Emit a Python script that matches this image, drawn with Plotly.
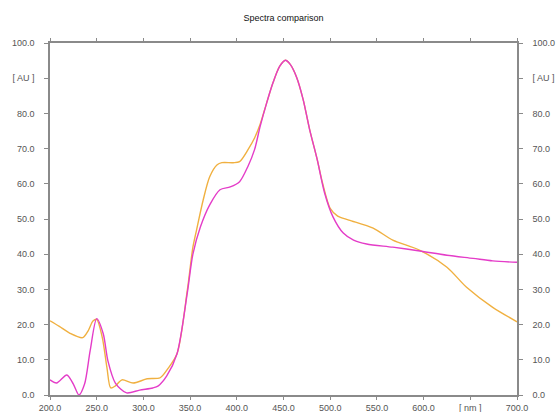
import plotly.graph_objects as go

# Wavelength grid and absorbance for the two spectra
wavelength_a = [200, 210, 221, 235, 241, 246, 250, 256, 261, 265, 270, 277, 289, 304, 318, 326,
                336, 347, 353, 357, 364, 371, 379, 384, 396, 403, 412, 419, 425, 432, 439, 446,
                452, 457, 464, 471, 478, 486, 492, 500, 508, 520, 546, 567, 596, 625, 646, 674, 700]
absorb_a = [21.1, 19.5, 17.6, 16.3, 18.3, 21.0, 21.5, 16.3, 7.7, 2.0, 2.6, 4.3, 3.4, 4.6, 4.9, 7.4,
            11.7, 29.7, 42.0, 47.0, 55.4, 62.0, 65.4, 66.0, 66.0, 66.3, 69.7, 73.0, 76.9, 83.0, 88.9, 93.4,
            95.1, 94.0, 90.3, 84.0, 75.4, 67.0, 60.0, 53.0, 50.8, 49.7, 47.4, 44.0, 41.1, 36.3, 30.6, 24.9, 20.8]

wavelength_b = [200, 207, 218, 225, 231, 237, 243, 250, 257, 262, 270, 282, 296, 310, 316, 325,
                336, 347, 353, 361, 371, 382, 393, 403, 412, 419, 425, 432, 439, 446, 452, 457,
                464, 471, 478, 486, 494, 503, 514, 525, 539, 567, 596, 625, 653, 674, 700]
absorb_b = [4.3, 3.4, 5.7, 3.1, 0.0, 3.1, 12.6, 21.7, 17.4, 9.7, 3.4, 0.6, 1.4, 2.0, 2.6, 5.4,
            11.7, 29.0, 40.0, 47.7, 54.0, 58.3, 59.1, 60.6, 65.0, 69.7, 76.3, 83.0, 88.9, 93.4, 95.1, 94.0,
            90.3, 84.0, 75.4, 67.0, 57.4, 50.6, 46.0, 44.0, 42.9, 42.0, 40.9, 39.7, 38.8, 38.1, 37.7]

x_ticks = [200, 250, 300, 350, 400, 450, 500, 550, 600, 650, 700]
x_tick_text = ["200.0", "250.0", "300.0", "350.0", "400.0", "450.0", "500.0", "550.0", "600.0", "[ nm ]", "700.0"]
y_ticks = [0, 10, 20, 30, 40, 50, 60, 70, 80, 90, 100]
y_tick_text = ["0.0", "10.0", "20.0", "30.0", "40.0", "50.0", "60.0", "70.0", "80.0", "[ AU ]", "100.0"]

fig = go.Figure()
fig.add_trace(go.Scatter(x=wavelength_a, y=absorb_a, mode="lines",
                         line=dict(color="#F0B040", width=1.4, shape="spline", smoothing=0.8),
                         showlegend=False))
fig.add_trace(go.Scatter(x=wavelength_b, y=absorb_b, mode="lines", yaxis="y2",
                         line=dict(color="#E43CC8", width=1.4, shape="spline", smoothing=0.8),
                         showlegend=False))

tick_font = dict(family="Liberation Sans, Arial, sans-serif", size=9, color="#555555")
axis_common = dict(showgrid=False, zeroline=False, showline=True, linecolor="#8a8a8a", linewidth=1.5,
                   ticks="outside", tickcolor="#8a8a8a", tickwidth=1, tickfont=tick_font,
                   automargin=False)

fig.update_layout(
    width=556, height=412,
    margin=dict(l=50, r=39, t=43, b=17),
    paper_bgcolor="white", plot_bgcolor="white",
    title=dict(text="Spectra comparison", x=0.51, xanchor="center", y=1 - 18 / 412, yanchor="middle",
               yref="container", font=dict(family="Liberation Sans, Arial, sans-serif", size=9, color="#111111")),
    xaxis=dict(range=[200, 700], tickvals=x_ticks, ticktext=x_tick_text, mirror="allticks",
               ticklen=3, ticklabelstandoff=0, **axis_common),
    yaxis=dict(range=[0, 100], tickvals=y_ticks, ticktext=y_tick_text, ticklen=4,
               ticklabelstandoff=8, **axis_common),
    yaxis2=dict(range=[0, 100], tickvals=y_ticks, ticktext=y_tick_text, overlaying="y", side="right",
                ticklen=4, ticklabelstandoff=8, **axis_common),
)

fig.write_html("out.html")
